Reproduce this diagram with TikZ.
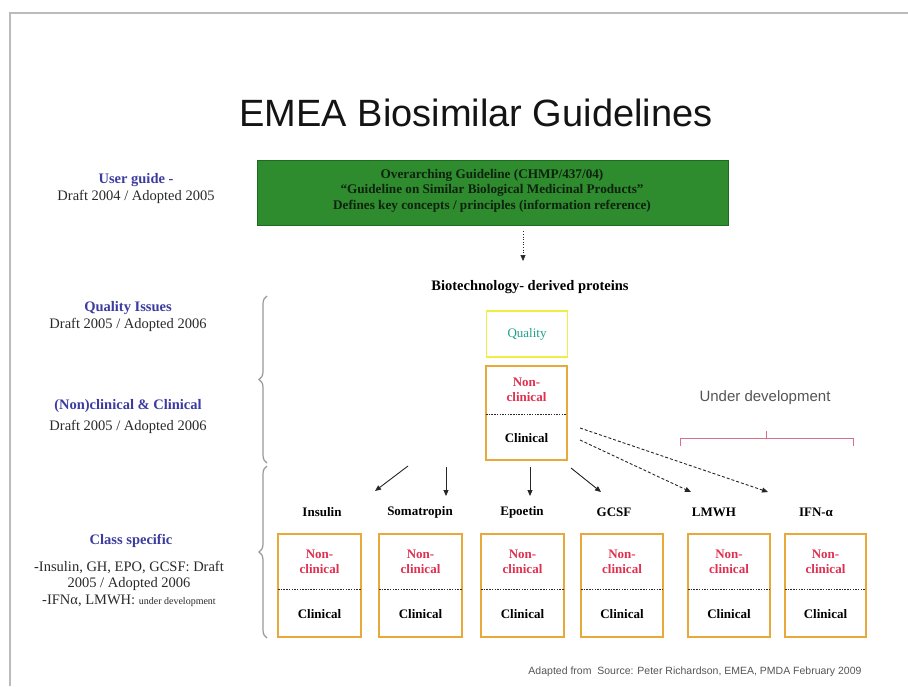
\documentclass[tikz,border=0pt]{standalone}
\usepackage{fontspec}
\setmainfont{Liberation Serif}
\setsansfont{Liberation Sans}
\usetikzlibrary{positioning,arrows.meta,decorations.pathreplacing}
\definecolor{frameGrey}{HTML}{BBBBBB}
\definecolor{guideGreen}{HTML}{2E8B2E}
\definecolor{guideEdge}{HTML}{1E6A1E}
\definecolor{guideText}{HTML}{0F220F}
\definecolor{labelBlue}{HTML}{3C3CA0}
\definecolor{textDark}{HTML}{2A2A2A}
\definecolor{textGrey}{HTML}{555555}
\definecolor{qualYellow}{HTML}{EEEE44}
\definecolor{qualTeal}{HTML}{1FA088}
\definecolor{boxOrange}{HTML}{E8A83A}
\definecolor{nonRed}{HTML}{E03050}
\definecolor{devPink}{HTML}{D8708C}
\definecolor{braceGrey}{HTML}{999999}
\newcommand{\fs}[1]{\fontsize{#1pt}{\dimexpr #1pt*12/10\relax}\selectfont}
\tikzset{
  ncframe/.style ={draw=boxOrange,line width=1.6pt,inner sep=0pt},
  ncsplit/.style ={draw=textDark,line width=0.6pt,dashed,
                   dash pattern=on 1.5pt off 1.2pt},
  nontext/.style ={text=nonRed,font=\fs{13}\bfseries,align=center,
                   inner sep=0pt},
  clintext/.style={text=black,font=\fs{13}\bfseries,inner sep=0pt},
}
% name, left, right, top, split, bottom
\newcommand{\ncBox}[6]{%
  \node[ncframe,minimum width={#3-#2},minimum height={#6-#4}]
        (#1) at ({(#2+#3)/2},{(#4+#6)/2}) {};
  \draw[ncsplit] (#2,#5) -- (#3,#5);
  \node[nontext]  (#1-non)  at ({(#2+#3)/2},{(#4+#5)/2}) {Non-\\[-1pt]clinical};
  \node[clintext] (#1-clin) at ({(#2+#3)/2},{(#5+#6)/2+1}) {Clinical};
}

\begin{document}
\begin{tikzpicture}[x=1pt,y=-1pt,
    every node/.style={font=\fs{13},text=textDark,align=center},
    sidehead/.style={text=labelBlue,font=\fs{14.5}\bfseries},
    sidetext/.style={text=textDark,font=\fontsize{14.5pt}{16.5pt}\selectfont},
    classname/.style={text=black,font=\fs{13}\bfseries},
    arr/.style={draw=black!85,line width=0.9pt,
                -{Triangle[length=6pt,width=5pt]}},
    dasharr/.style={arr,dashed,dash pattern=on 3pt off 2pt},
    brace/.style={draw=braceGrey,line width=1.2pt,
                  decorate,decoration={brace,amplitude=8pt}},
  ]
  \useasboundingbox (0,0) rectangle (908,686);
  \fill[white] (0,0) rectangle (908,686);
  \draw[frameGrey,line width=2.2pt] (10,686) -- (10,13) -- (908,13);

  \node[font=\sffamily\fs{38},text=black!92] (title) at (476,113)
        {EMEA Biosimilar Guidelines};

  % overarching guideline
  \node[fill=guideGreen,draw=guideEdge,line width=0.8pt,
        minimum width=471,minimum height=65] (guide) at (492.5,192.5) {};
  \node[text=guideText,font=\fontsize{13.2pt}{15.5pt}\selectfont\bfseries]
        (guideText) at (492,190.5)
        {Overarching Guideline (CHMP/437/04)\\
         ``Guideline on Similar Biological Medicinal Products''\\
         Defines key concepts / principles (information reference)};
  \coordinate (dropTip) at (523,261);
  \draw[arr,line width=0.6pt,dotted,shorten <=6pt] (guide.south -| dropTip) -- (dropTip);

  \node[classname,font=\fs{14.5}\bfseries] (biotech) at (530,287)
        {Biotechnology- derived proteins};

  % left column
  \node[sidehead] (userHead) at (136,180) {User guide -};
  \node[sidetext] (userDate) at (136,197) {Draft 2004 / Adopted 2005};
  \node[sidehead] (qualHead) at (128,308) {Quality Issues};
  \node[sidetext] (qualDate) at (128,325) {Draft 2005 / Adopted 2006};
  \node[sidehead] (clinHead) at (128,406) {(Non)clinical \& Clinical};
  \node[sidetext] (clinDate) at (128,427) {Draft 2005 / Adopted 2006};
  \node[sidehead] (classHead) at (131,541) {Class specific};
  \node[sidetext] (classDate) at (129,584)
        {-Insulin, GH, EPO, GCSF: Draft\\
         2005 / Adopted 2006\\
         -IFNα, LMWH: {\fs{10}under development}};

  \draw[brace] (267,463) -- (267,296);
  \draw[brace] (267,638) -- (267,466);

  % central product
  \node[draw=qualYellow,line width=1.8pt,minimum width=81,minimum height=46,
        text=qualTeal,font=\fs{13}] (quality) at (527,334) {Quality};
  \ncBox{core}{486}{567}{366}{414}{460}

  \node[font=\sffamily\fs{15},text=textGrey] (underDev) at (765,398)
        {Under development};
  \draw[devPink,line width=1pt] (680,446) -- (680,438) -- (853,438) -- (853,446);
  \draw[devPink,line width=1pt] (766,438) -- (766,431);

  % class names
  \foreach \nm/\cx/\txt in {ins/322/Insulin,som/420/Somatropin,epo/522/Epoetin,
                            gcsf/614/GCSF,lmwh/714/LMWH,ifn/816/IFN-α}
    \node[classname] (\nm) at (\cx,512) {\txt};

  \foreach \nm/\ax/\ay/\bx/\by in {ins/408/466/375/491,som/446/467/446/496,
                                  epo/530/467/530/496,gcsf/571/468/601/492}{
    \coordinate (\nm-tail) at (\ax,\ay);
    \coordinate (\nm-tip)  at (\bx,\by);
    \draw[arr] (\nm-tail) -- (\nm-tip);
  }
  \coordinate (lmwh-tail) at (580,440);
  \coordinate (lmwh-tip)  at (691,492);
  \coordinate (ifn-tail)  at (580,428);
  \coordinate (ifn-tip)   at (768,492);
  \draw[dasharr] (lmwh-tail) -- (lmwh-tip);
  \draw[dasharr] (ifn-tail) -- (ifn-tip);

  % class boxes
  \ncBox{insBox}{278}{361}{534}{589}{637}
  \ncBox{somBox}{379}{462}{534}{589}{637}
  \ncBox{epoBox}{481}{564}{534}{589}{637}
  \ncBox{gcsfBox}{581}{663}{534}{589}{637}
  \ncBox{lmwhBox}{688}{770}{534}{589}{637}
  \ncBox{ifnBox}{785}{866}{534}{589}{637}

  \node[font=\sffamily\fs{10.5},text=textGrey] (source) at (695,672)
        {Adapted from\ \ Source: Peter Richardson, EMEA, PMDA February 2009};
\end{tikzpicture}
\end{document}
